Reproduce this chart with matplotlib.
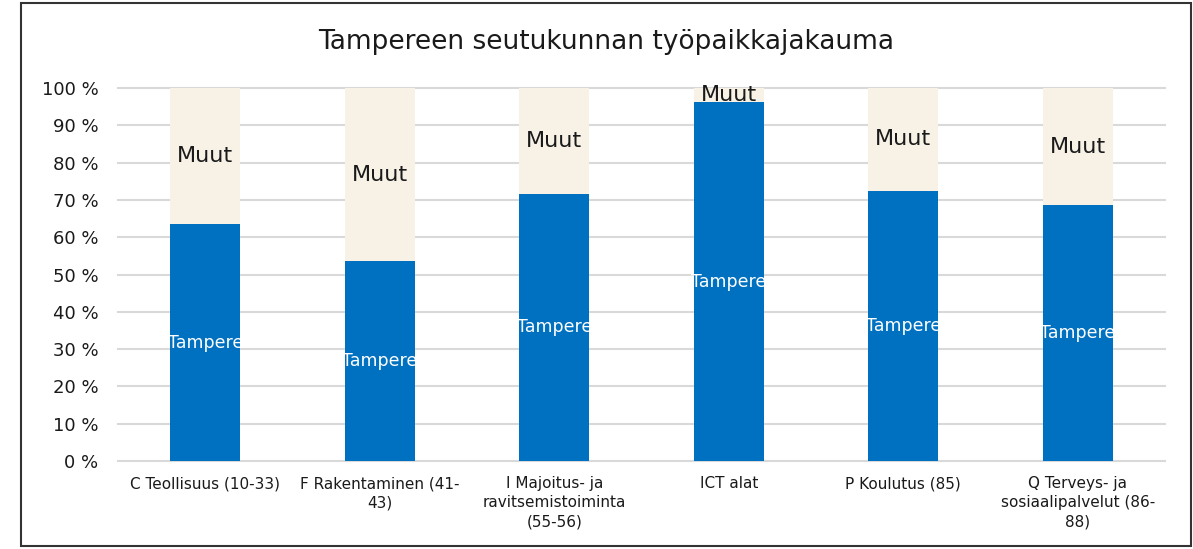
import matplotlib
matplotlib.use("Agg")
import matplotlib.pyplot as plt
from matplotlib.patches import Rectangle

categories = ["C Teollisuus (10-33)", "F Rakentaminen (41-\n43)",
              "I Majoitus- ja\nravitsemistoiminta\n(55-56)", "ICT alat",
              "P Koulutus (85)", "Q Terveys- ja\nsosiaalipalvelut (86-\n88)"]
tampere = [63.5, 53.6, 71.6, 96.2, 72.5, 68.5]
muut = [100 - v for v in tampere]
yticks = list(range(0, 101, 10))
ytick_labels = [f"{v} %" for v in yticks]
title = "Tampereen seutukunnan työpaikkajakauma"

plt.rcParams['font.family'] = ['DejaVu Sans']

fig = plt.figure(figsize=(11.93, 5.49), dpi=100)
ax = fig.add_axes([0.0989, 0.1603, 0.8776, 0.6794])

x = list(range(len(categories)))
blue = "#0070C0"
beige = "#F7F1E6"
bars1 = ax.bar(x, tampere, width=0.4, color=blue, zorder=3)
bars2 = ax.bar(x, muut, width=0.4, bottom=tampere, color=beige, zorder=3)

for b, v in zip(bars1, tampere):
    t = ax.text(b.get_x() + b.get_width() / 2, v / 2, "Tampere", ha="center", va="center",
                color="white", fontsize=12.5, zorder=4)
    t.set_clip_path(b)
for b, v, m in zip(bars2, tampere, muut):
    ax.text(b.get_x() + b.get_width() / 2, v + m / 2, "Muut", ha="center", va="center",
            color="#1a1a1a", fontsize=16, zorder=4)

ax.set_xlim(-0.5, len(categories) - 0.5)
ax.set_ylim(0, 100)
ax.set_yticks(yticks)
ax.set_yticklabels(ytick_labels, fontsize=13, color="#1a1a1a")
ax.set_xticks(x)
ax.set_xticklabels(categories, fontsize=11, color="#1a1a1a", linespacing=1.35)
ax.tick_params(axis="both", length=0)
ax.tick_params(axis="x", pad=11)
ax.tick_params(axis="y", pad=14)
ax.yaxis.grid(True, color="#d9d9d9", linewidth=1.5, zorder=0)
ax.set_axisbelow(True)
for gl in ax.get_ygridlines():
    gl.set_clip_on(False)
for s in ax.spines.values():
    s.set_visible(False)

fig.text(0.508, 1 - 42 / 549, title, ha="center", va="center", fontsize=19, color="#1a1a1a")

fig.patches.append(Rectangle((21 / 1193, 3 / 549), (1191 - 21) / 1193, (546 - 3) / 549,
                             transform=fig.transFigure, fill=False, edgecolor="#333333",
                             linewidth=1.5))

fig.savefig("out.png", dpi=100)
